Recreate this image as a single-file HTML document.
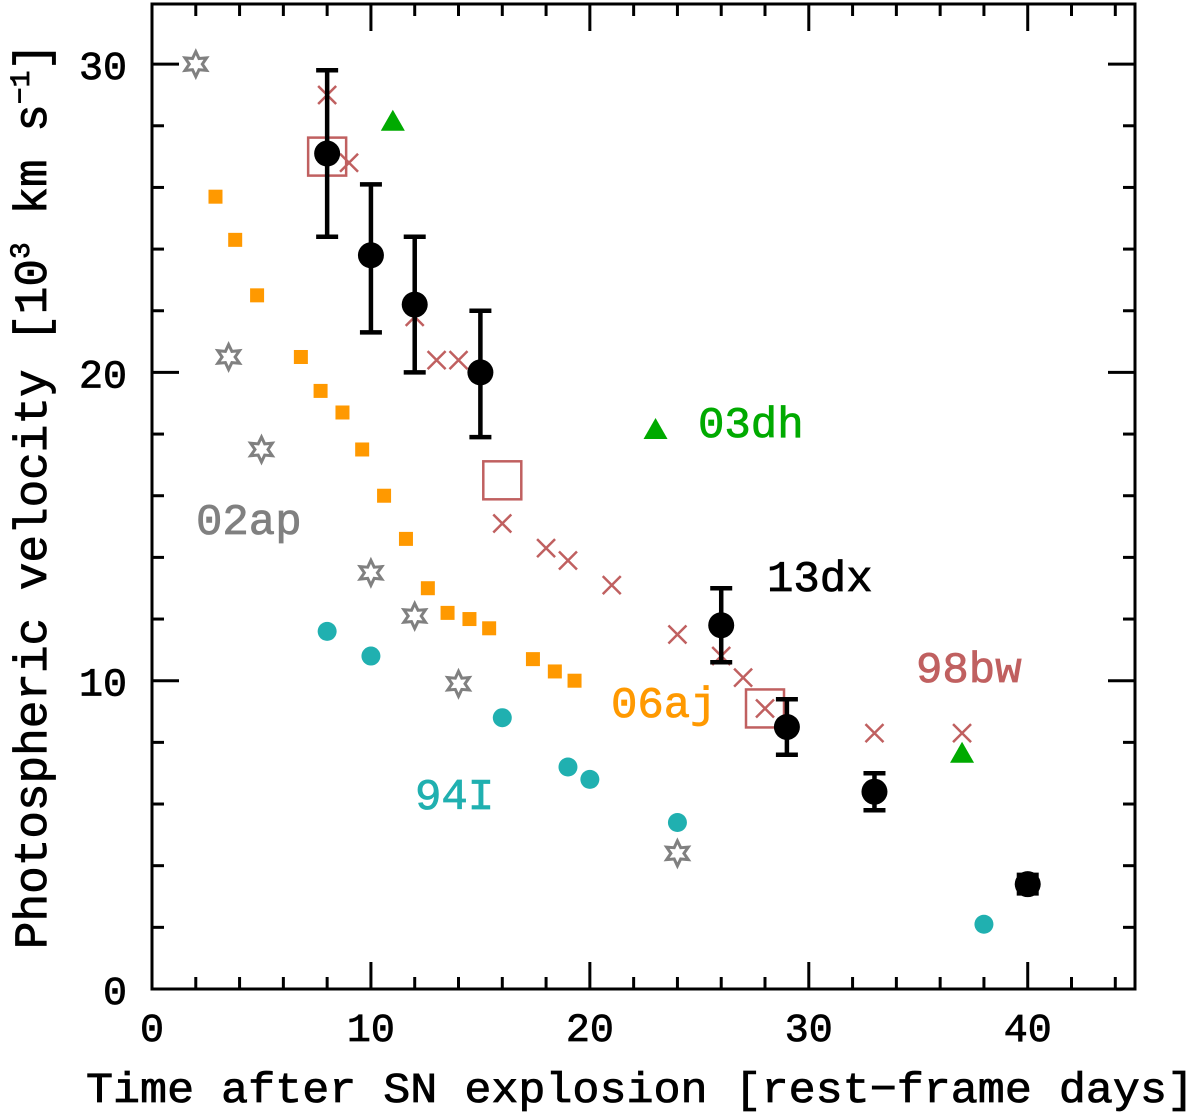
<!DOCTYPE html>
<html><head><meta charset="utf-8"><style>
html,body{margin:0;padding:0;background:#fff;width:1200px;height:1118px;overflow:hidden}
text{font-family:"Liberation Mono",monospace;stroke-width:0.8}
</style></head><body>
<svg id="chart" width="1200" height="1118" xmlns="http://www.w3.org/2000/svg">
<g id="axes"></g>
<g id="marks"></g>
<text x="86" y="1102" font-size="43" textLength="1108" lengthAdjust="spacingAndGlyphs" stroke="#000">Time after SN explosion [rest−frame days]</text>
<text transform="translate(46,496) rotate(-90)" font-size="46" text-anchor="middle" stroke="#000">Photospheric velocity [10<tspan font-size="28" dy="-17">3</tspan><tspan dy="17"> km s</tspan><tspan font-size="28" dy="-17">−1</tspan><tspan dy="17">]</tspan></text>
<text x="196" y="534" font-size="44" fill="#808080" stroke="#808080">02ap</text>
<text x="698" y="437" font-size="44" fill="#00aa00" stroke="#00aa00">03dh</text>
<text x="767" y="591" font-size="44" fill="#000" stroke="#000">13dx</text>
<text x="916" y="682" font-size="44" fill="#c06060" stroke="#c06060">98bw</text>
<text x="611" y="717" font-size="44" fill="#ff9900" stroke="#ff9900">06aj</text>
<text x="415" y="809" font-size="44" fill="#20b0b0" stroke="#20b0b0">94I</text>
</svg>
<script>
const xTicks=[0,10,20,30,40];
const yTicks=[0,10,20,30];
const dx13_t=[8,10,12,15,26,29,33,40];
const dx13_v=[27.1,23.8,22.2,20.0,11.8,8.5,6.4,3.4];
const dx13_lo=[24.4,21.3,20.0,17.9,10.6,7.6,5.8,3.1];
const dx13_hi=[29.8,26.1,24.4,22.0,13.0,9.4,7.0,3.7];
const bw98x_t=[8,9,12,13,14,16,18,19,21,24,26,27,28,33,37];
const bw98x_v=[29,26.8,21.8,20.4,20.4,15.1,14.3,13.9,13.1,11.5,10.8,10.1,9.1,8.3,8.3];
const bw98s_t=[8,16,28];
const bw98s_v=[27.0,16.5,9.1];
const dh03_t=[11,23,37];
const dh03_v=[28.1,18.1,7.6];
const ap02_t=[2,3.5,5,10,12,14,24];
const ap02_v=[30,20.5,17.5,13.5,12.1,9.9,4.4];
const aj06_t=[2.9,3.8,4.8,6.8,7.7,8.7,9.6,10.6,11.6,12.6,13.5,14.5,15.4,17.4,18.4,19.3];
const aj06_v=[25.7,24.3,22.5,20.5,19.4,18.7,17.5,16.0,14.6,13.0,12.2,12.0,11.7,10.7,10.3,10.0];
const i94_t=[8,10,16,19,20,24,38];
const i94_v=[11.6,10.8,8.8,7.2,6.8,5.4,2.1];

const L=152,R=1135,T=4,B=989,XMAX=44.9,YMAX=31.95;
const X=d=>L+d*(R-L)/XMAX, Y=v=>B-v*(B-T)/YMAX;
const NS="http://www.w3.org/2000/svg";
function mk(tag,attrs,parent){const e=document.createElementNS(NS,tag);for(const k in attrs)e.setAttribute(k,attrs[k]);parent.appendChild(e);return e;}
const ax=document.getElementById('axes'), mg=document.getElementById('marks');
const frame=mk('rect',{x:L,y:T,width:R-L,height:B-T,fill:'none',stroke:'#000','stroke-width':3},ax);


for(let d=0;d<=44;d+=2){const maj=d%10==0,len=maj?27:12;
 const t1=mk('line',{x1:X(d),x2:X(d),y1:B,y2:B-len,stroke:'#000','stroke-width':3},ax);
 
 
 const t2=mk('line',{x1:X(d),x2:X(d),y1:T,y2:T+len,stroke:'#000','stroke-width':3},ax);
 
 }
for(let v=0;v<=31;v+=2){const maj=v%10==0,len=maj?27:12;
 const t1=mk('line',{x1:L,x2:L+len,y1:Y(v),y2:Y(v),stroke:'#000','stroke-width':3},ax);
 
 
 const t2=mk('line',{x1:R,x2:R-len,y1:Y(v),y2:Y(v),stroke:'#000','stroke-width':3},ax);
 
 }
xTicks.forEach(d=>{const t=mk('text',{x:X(d),y:1041,'font-size':40,'text-anchor':'middle',stroke:'#000'},ax);t.textContent=d;
 
 });
yTicks.forEach(v=>{const t=mk('text',{x:127,y:Y(v)+15,'font-size':40,'text-anchor':'end',stroke:'#000'},ax);t.textContent=v;
 
 });

ap02_t.forEach((t,i)=>{const cx=X(t),cy=Y(ap02_v[i]);let p=[];for(let k=0;k<12;k++){const r=k%2?6.5:12.5,a=-Math.PI/2+k*Math.PI/6;p.push((cx+r*Math.cos(a)).toFixed(1)+','+(cy+r*Math.sin(a)).toFixed(1));}
 const e=mk('polygon',{points:p.join(' '),fill:'none',stroke:'#808080','stroke-width':3},mg);
 
 });
aj06_t.forEach((t,i)=>{const e=mk('rect',{x:X(t)-7,y:Y(aj06_v[i])-7,width:14,height:14,fill:'#ff9900'},mg);
 
 });
i94_t.forEach((t,i)=>{const e=mk('circle',{cx:X(t),cy:Y(i94_v[i]),r:9.5,fill:'#20b0b0'},mg);
 
 });
dh03_t.forEach((t,i)=>{const cx=X(t),cy=Y(dh03_v[i]);const e=mk('polygon',{points:`${cx},${cy-13} ${cx+12},${cy+8} ${cx-12},${cy+8}`,fill:'#00aa00'},mg);
 
 });
bw98x_t.forEach((t,i)=>{const cx=X(t),cy=Y(bw98x_v[i]);const e=mk('path',{d:`M${cx-9},${cy-9}L${cx+9},${cy+9}M${cx+9},${cy-9}L${cx-9},${cy+9}`,stroke:'#c06060','stroke-width':2.5,fill:'none'},mg);
 
 });
bw98s_t.forEach((t,i)=>{const e=mk('rect',{x:X(t)-19,y:Y(bw98s_v[i])-19,width:38,height:38,fill:'none',stroke:'#c06060','stroke-width':2.5},mg);
 
 });
dx13_t.forEach((t,i)=>{const cx=X(t);const y1=Y(dx13_lo[i]),y2=Y(dx13_hi[i]);
 const e=mk('path',{d:`M${cx},${y1}V${y2}M${cx-11},${y1}H${cx+11}M${cx-11},${y2}H${cx+11}`,stroke:'#000','stroke-width':4.5,fill:'none'},mg);
 
 
 const c=mk('circle',{cx:cx,cy:Y(dx13_v[i]),r:13,fill:'#000'},mg);
 
 });
</script>
</body></html>
